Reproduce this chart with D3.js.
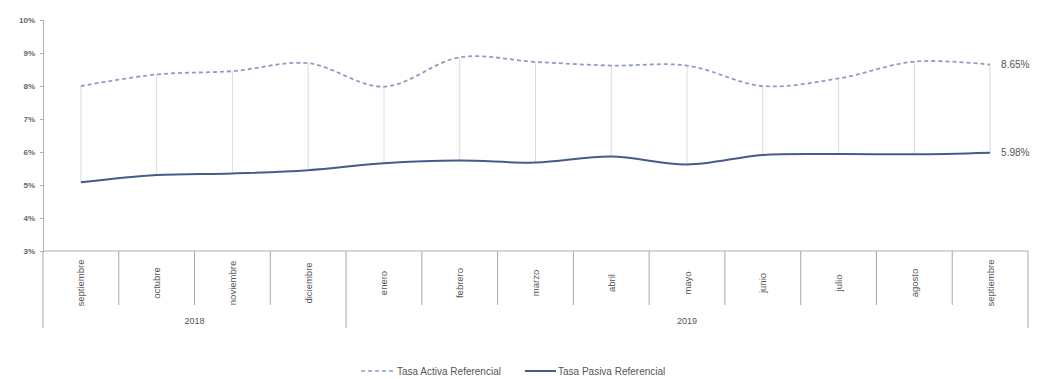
<!DOCTYPE html>
<html><head><meta charset="utf-8">
<script src="https://cdn.jsdelivr.net/npm/d3@7"></script>
<style>body{margin:0;background:#fff;}svg{display:block;font-family:"Liberation Sans",Arial,sans-serif;}</style>
</head><body><svg id="c" width="1038" height="379"></svg>
<script>
const months = ["septiembre","octubre","noviembre","diciembre","enero","febrero","marzo","abril","mayo","junio","julio","agosto","septiembre"];
const years = [{label:"2018", start:0, end:4},{label:"2019", start:4, end:13}];
const activa = [8.00, 8.35, 8.45, 8.69, 7.98, 8.87, 8.73, 8.62, 8.62, 8.00, 8.23, 8.74, 8.65];
const pasiva = [5.08, 5.30, 5.35, 5.45, 5.66, 5.74, 5.68, 5.86, 5.62, 5.91, 5.94, 5.93, 5.98];
const yTicks = [3,4,5,6,7,8,9,10];
const seriesNames = ["Tasa Activa Referencial","Tasa Pasiva Referencial"];

const svg = d3.select("#c");
const L = 43, R = 1028, T = 20, B = 251;
const x = d3.scaleBand().domain(d3.range(months.length)).range([L,R]).padding(0);
const y = d3.scaleLinear().domain([3,10]).range([B,T]);
const cx = i => x(i) + x.bandwidth()/2;

// y axis
const ya = svg.append("g").attr("transform",`translate(${L},0)`)
  .call(d3.axisLeft(y).tickValues(yTicks).tickSize(3).tickFormat(d=>d+"%"));
ya.select(".domain").attr("stroke","#b0b0b0");
ya.selectAll(".tick line").attr("stroke","#b0b0b0");
ya.selectAll("text").attr("fill","#666").attr("font-size",8).attr("font-weight","bold").attr("x",-8);

// x axis line
svg.append("line").attr("x1",L).attr("x2",R).attr("y1",B).attr("y2",B).attr("stroke","#b0b0b0");
// category boundaries
const bounds = d3.range(months.length+1);
const yearBounds = new Set(years.flatMap(d=>[d.start,d.end]));
svg.selectAll(".bd").data(bounds).join("line")
  .attr("x1",i=> i<months.length ? x(i) : R).attr("x2",i=> i<months.length ? x(i) : R)
  .attr("y1",B).attr("y2",i=> yearBounds.has(i) ? 328 : 305)
  .attr("stroke","#a8a8a8");
// month labels
svg.selectAll(".ml").data(months).join("text")
  .attr("transform",(d,i)=>`translate(${cx(i)+3.5},283) rotate(-90)`)
  .attr("text-anchor","middle").attr("font-size",9.5).attr("fill","#555").text(d=>d);
// year labels
svg.selectAll(".yl").data(years).join("text")
  .attr("x",d=> ( (d.start<months.length?x(d.start):R) + (d.end<months.length?x(d.end):R) )/2)
  .attr("y",324).attr("text-anchor","middle").attr("font-size",9).attr("fill","#555").text(d=>d.label);

// high-low lines
svg.selectAll(".hl").data(months).join("line")
  .attr("x1",(d,i)=>cx(i)).attr("x2",(d,i)=>cx(i))
  .attr("y1",(d,i)=>y(activa[i])).attr("y2",(d,i)=>y(pasiva[i]))
  .attr("stroke","#dcdcdc").attr("stroke-width",1);

const line = d3.line().x((d,i)=>cx(i)).y(d=>y(d)).curve(d3.curveCatmullRom.alpha(0.5));
svg.append("path").attr("d",line(activa)).attr("fill","none")
  .attr("stroke","#8e9dc6").attr("stroke-width",1.8).attr("stroke-dasharray","4,3");
svg.append("path").attr("d",line(pasiva)).attr("fill","none")
  .attr("stroke","#465b8c").attr("stroke-width",2);

// end labels
const last = months.length-1;
svg.append("text").attr("x",cx(last)+11).attr("y",y(activa[last])+3.5).attr("font-size",10).attr("fill","#555")
  .text(activa[last].toFixed(2)+"%");
svg.append("text").attr("x",cx(last)+11).attr("y",y(pasiva[last])+3.5).attr("font-size",10).attr("fill","#555")
  .text(pasiva[last].toFixed(2)+"%");

// legend
const lg = svg.append("g");
lg.append("line").attr("x1",361).attr("x2",394).attr("y1",371).attr("y2",371)
  .attr("stroke","#8e9dc6").attr("stroke-width",1.6).attr("stroke-dasharray","4,3");
lg.append("text").attr("x",397).attr("y",374.5).attr("font-size",10).attr("fill","#555").text(seriesNames[0]);
lg.append("line").attr("x1",525).attr("x2",556).attr("y1",371).attr("y2",371)
  .attr("stroke","#465b8c").attr("stroke-width",2);
lg.append("text").attr("x",558).attr("y",374.5).attr("font-size",10).attr("fill","#555").text(seriesNames[1]);
</script></body></html>
